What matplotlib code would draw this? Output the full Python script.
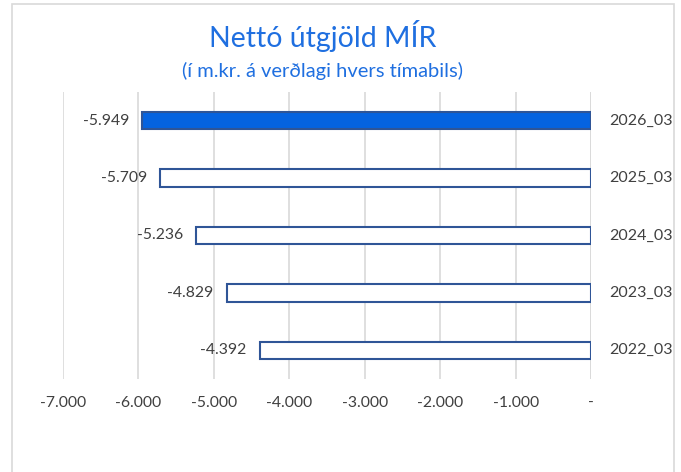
import matplotlib.pyplot as plt
import matplotlib.transforms as mtransforms
from matplotlib.patches import Rectangle

periods = ["2022_03", "2023_03", "2024_03", "2025_03", "2026_03"]
values = [-4392, -4829, -5236, -5709, -5949]
value_labels = ["-4.392", "-4.829", "-5.236", "-5.709", "-5.949"]
xticks = [-7000, -6000, -5000, -4000, -3000, -2000, -1000, 0]
xtick_labels = ["-7.000", "-6.000", "-5.000", "-4.000", "-3.000", "-2.000", "-1.000", "-"]

plt.rcParams['font.family'] = ['Lato', 'DejaVu Sans']

fig = plt.figure(figsize=(6.81, 4.72), dpi=100)
# chart frame (bottom edge falls outside the image, as in the original)
fig.patches.append(Rectangle((12 / 681, -0.01), 662 / 681, 1 - 4 / 472 + 0.01,
                             transform=fig.transFigure, fill=False,
                             edgecolor="#d9d9d9", linewidth=1.2))

ax = fig.add_axes([63 / 681, 1 - 379 / 472, 528 / 681, 287 / 472])

fills = ["white"] * 4 + ["#0563e0"]
ypos = range(len(periods))
ax.barh(ypos, values, height=0.3, color=fills, edgecolor="#2f5597", linewidth=1.5, zorder=3)

for y, v, lab in zip(ypos, values, value_labels):
    ax.annotate(lab, (v, y), xytext=(-9.5, 0), textcoords="offset points",
                ha="right", va="center", fontsize=11.3, color="#404040")
    ax.annotate(periods[y], (0, y), xytext=(13, 0), textcoords="offset points",
                ha="left", va="center", fontsize=11.5, color="#404040")

ax.set_xlim(-7000, 0)
ax.set_ylim(-0.5, len(periods) - 0.5)
ax.set_xticks(xticks)
ax.set_xticklabels(xtick_labels, fontsize=11.3, color="#404040")
shift = mtransforms.ScaledTranslation(-5 / 100, 0, fig.dpi_scale_trans)
for t in ax.get_xticklabels():
    t.set_transform(t.get_transform() + shift)
ax.set_yticks([])
ax.tick_params(axis="x", length=0, pad=12)
ax.grid(axis="x", color="#d9d9d9", linewidth=1.2, zorder=0)
for s in ax.spines.values():
    s.set_visible(False)
ax.axvline(0, color="#d9d9d9", linewidth=1.2, zorder=1)

fig.text(323 / 681, 1 - 47 / 472, "Nettó útgjöld MÍR", ha="center", va="baseline",
         fontsize=20.5, color="#1f6fe0")
fig.text(322 / 681, 1 - 77 / 472, "(í m.kr. á verðlagi hvers tímabils)", ha="center", va="baseline",
         fontsize=14.5, color="#1f6fe0")

fig.savefig("out.png", dpi=100)
